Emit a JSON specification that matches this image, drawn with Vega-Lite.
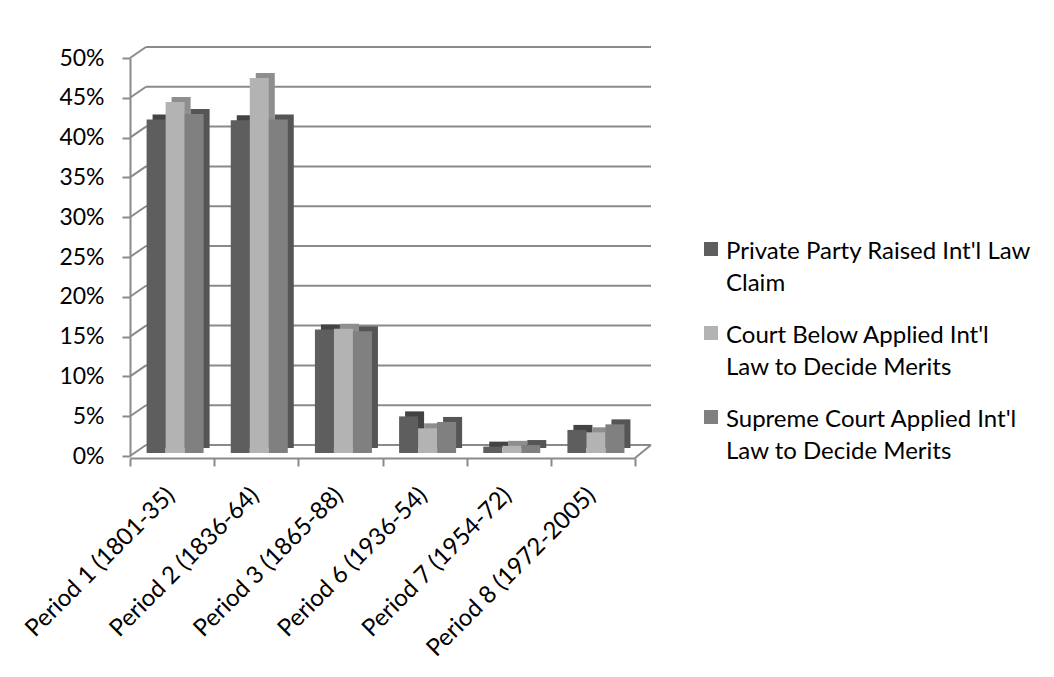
{
  "$schema": "https://vega.github.io/schema/vega-lite/v6.json",
  "width": 505,
  "height": 398,
  "autosize": {"type": "none"},
  "padding": {"left": 130, "top": 58, "right": 419, "bottom": 221},
  "background": "white",
  "datasets": {
    "grid": [{"v": 0}, {"v": 0.05}, {"v": 0.1}, {"v": 0.15}, {"v": 0.2}, {"v": 0.25}, {"v": 0.3}, {"v": 0.35}, {"v": 0.4}, {"v": 0.45}, {"v": 0.5}],
    "floor": [{"v": 0}],
    "bars": [
      {"period": "Period 1 (1801-35)", "series": "Private Party Raised Int'l Law Claim", "value": 0.419},
      {"period": "Period 1 (1801-35)", "series": "Court Below Applied Int'l Law to Decide Merits", "value": 0.441},
      {"period": "Period 1 (1801-35)", "series": "Supreme Court Applied Int'l Law to Decide Merits", "value": 0.426},
      {"period": "Period 2 (1836-64)", "series": "Private Party Raised Int'l Law Claim", "value": 0.418},
      {"period": "Period 2 (1836-64)", "series": "Court Below Applied Int'l Law to Decide Merits", "value": 0.471},
      {"period": "Period 2 (1836-64)", "series": "Supreme Court Applied Int'l Law to Decide Merits", "value": 0.419},
      {"period": "Period 3 (1865-88)", "series": "Private Party Raised Int'l Law Claim", "value": 0.155},
      {"period": "Period 3 (1865-88)", "series": "Court Below Applied Int'l Law to Decide Merits", "value": 0.156},
      {"period": "Period 3 (1865-88)", "series": "Supreme Court Applied Int'l Law to Decide Merits", "value": 0.153},
      {"period": "Period 6 (1936-54)", "series": "Private Party Raised Int'l Law Claim", "value": 0.046},
      {"period": "Period 6 (1936-54)", "series": "Court Below Applied Int'l Law to Decide Merits", "value": 0.031},
      {"period": "Period 6 (1936-54)", "series": "Supreme Court Applied Int'l Law to Decide Merits", "value": 0.039},
      {"period": "Period 7 (1954-72)", "series": "Private Party Raised Int'l Law Claim", "value": 0.008},
      {"period": "Period 7 (1954-72)", "series": "Court Below Applied Int'l Law to Decide Merits", "value": 0.009},
      {"period": "Period 7 (1954-72)", "series": "Supreme Court Applied Int'l Law to Decide Merits", "value": 0.010},
      {"period": "Period 8 (1972-2005)", "series": "Private Party Raised Int'l Law Claim", "value": 0.029},
      {"period": "Period 8 (1972-2005)", "series": "Court Below Applied Int'l Law to Decide Merits", "value": 0.026},
      {"period": "Period 8 (1972-2005)", "series": "Supreme Court Applied Int'l Law to Decide Merits", "value": 0.036}
    ]
  },
  "layer": [
    {
      "data": {"name": "grid"},
      "mark": {"type": "rule", "color": "#8a8a8a", "strokeWidth": 2, "xOffset": 16, "x2Offset": 16, "yOffset": -11},
      "encoding": {
        "x": {"value": 0},
        "x2": {"value": "width"},
        "y": {"field": "v", "type": "quantitative", "scale": {"domain": [0, 0.5]},
          "axis": {"title": null, "values": [0, 0.05, 0.1, 0.15, 0.2, 0.25, 0.3, 0.35, 0.4, 0.45, 0.5], "format": ".0%", "grid": false, "domainColor": "#8a8a8a", "domainWidth": 2, "tickColor": "#8a8a8a", "tickWidth": 2, "tickSize": 8, "labelPadding": 18, "labelFontSize": 23, "labelColor": "#000000", "labelFont": "Lato"}}
      }
    },
    {
      "data": {"name": "grid"},
      "mark": {"type": "rule", "color": "#8a8a8a", "strokeWidth": 2, "x2Offset": 16, "y2Offset": -11},
      "encoding": {
        "x": {"value": 0},
        "x2": {"value": 0},
        "y": {"field": "v", "type": "quantitative", "scale": {"domain": [0, 0.5]}, "axis": {"title": null, "values": [0, 0.05, 0.1, 0.15, 0.2, 0.25, 0.3, 0.35, 0.4, 0.45, 0.5], "format": ".0%", "grid": false, "domainColor": "#8a8a8a", "domainWidth": 2, "tickColor": "#8a8a8a", "tickWidth": 2, "tickSize": 8, "labelPadding": 18, "labelFontSize": 23, "labelColor": "#000000", "labelFont": "Lato"}},
        "y2": {"field": "v"}
      }
    },
    {
      "data": {"name": "floor"},
      "mark": {"type": "rule", "color": "#8a8a8a", "strokeWidth": 2, "yOffset": 2, "x2Offset": 16, "y2Offset": -11},
      "encoding": {
        "x": {"value": "width"},
        "x2": {"value": "width"},
        "y": {"field": "v", "type": "quantitative", "scale": {"domain": [0, 0.5]}, "axis": {"title": null, "values": [0, 0.05, 0.1, 0.15, 0.2, 0.25, 0.3, 0.35, 0.4, 0.45, 0.5], "format": ".0%", "grid": false, "domainColor": "#8a8a8a", "domainWidth": 2, "tickColor": "#8a8a8a", "tickWidth": 2, "tickSize": 8, "labelPadding": 18, "labelFontSize": 23, "labelColor": "#000000", "labelFont": "Lato"}},
        "y2": {"field": "v"}
      }
    },
    {
      "data": {"name": "bars"},
      "mark": {"type": "bar", "yOffset": -8, "y2Offset": -8},
      "encoding": {
        "x": {"field": "period", "type": "nominal", "sort": null, "scale": {"paddingInner": 0, "paddingOuter": 0},
          "axis": {"title": null, "labelAngle": -45, "tickBand": "extent", "domainColor": "#8a8a8a", "domainWidth": 2, "tickColor": "#8a8a8a", "tickWidth": 2, "tickSize": 8, "labelPadding": 17, "labelOffset": -10, "labelLimit": 400, "offset": 2, "labelFontSize": 24, "labelColor": "#000000", "labelFont": "Lato"}},
        "xOffset": {"field": "series", "type": "nominal", "scale": {"domain": ["Private Party Raised Int'l Law Claim", "Court Below Applied Int'l Law to Decide Merits", "Supreme Court Applied Int'l Law to Decide Merits"], "paddingInner": 0, "paddingOuter": 0.715, "range": [9, 93.2]}},
        "y": {"field": "value", "type": "quantitative", "scale": {"domain": [0, 0.5]},
          "axis": {"title": null, "values": [0, 0.05, 0.1, 0.15, 0.2, 0.25, 0.3, 0.35, 0.4, 0.45, 0.5], "format": ".0%", "grid": false, "domainColor": "#8a8a8a", "domainWidth": 2, "tickColor": "#8a8a8a", "tickWidth": 2, "tickSize": 8, "labelPadding": 18, "labelFontSize": 23, "labelColor": "#000000", "labelFont": "Lato"}},
        "color": {"value": "#555555", "condition": [
          {"test": "datum.series === \"Private Party Raised Int'l Law Claim\"", "value": "#434343"},
          {"test": "datum.series === \"Court Below Applied Int'l Law to Decide Merits\"", "value": "#8e8e8e"}
        ]}
      }
    },
    {
      "data": {"name": "bars"},
      "mark": {"type": "bar", "yOffset": -3, "y2Offset": -3},
      "encoding": {
        "x": {"field": "period", "type": "nominal", "sort": null, "scale": {"paddingInner": 0, "paddingOuter": 0},
          "axis": {"title": null, "labelAngle": -45, "tickBand": "extent", "domainColor": "#8a8a8a", "domainWidth": 2, "tickColor": "#8a8a8a", "tickWidth": 2, "tickSize": 8, "labelPadding": 17, "labelOffset": -10, "labelLimit": 400, "offset": 2, "labelFontSize": 24, "labelColor": "#000000", "labelFont": "Lato"}},
        "xOffset": {"field": "series", "type": "nominal", "scale": {"domain": ["Private Party Raised Int'l Law Claim", "Court Below Applied Int'l Law to Decide Merits", "Supreme Court Applied Int'l Law to Decide Merits"], "paddingInner": 0, "paddingOuter": 0.715, "range": [3, 87.2]}},
        "y": {"field": "value", "type": "quantitative", "scale": {"domain": [0, 0.5]},
          "axis": {"title": null, "values": [0, 0.05, 0.1, 0.15, 0.2, 0.25, 0.3, 0.35, 0.4, 0.45, 0.5], "format": ".0%", "grid": false, "domainColor": "#8a8a8a", "domainWidth": 2, "tickColor": "#8a8a8a", "tickWidth": 2, "tickSize": 8, "labelPadding": 18, "labelFontSize": 23, "labelColor": "#000000", "labelFont": "Lato"}},
        "color": {"field": "series", "type": "nominal",
          "scale": {"domain": ["Private Party Raised Int'l Law Claim", "Court Below Applied Int'l Law to Decide Merits", "Supreme Court Applied Int'l Law to Decide Merits"], "range": ["#5e5e5e", "#b3b3b3", "#808080"]},
          "legend": {"orient": "none", "legendX": 569, "legendY": 170, "title": null, "symbolType": "M-1,0.286H1V2.286H-1Z", "symbolSize": 196, "symbolStrokeWidth": 0, "symbolOpacity": 1, "labelFontSize": 24, "labelFont": "Lato", "labelColor": "#000000", "labelOffset": 3, "labelLimit": 0, "rowPadding": 16, "labelBaseline": "top",
            "labelExpr": "datum.label === \"Private Party Raised Int'l Law Claim\" ? [\"Private Party Raised Int'l Law\", \"Claim\"] : datum.label === \"Court Below Applied Int'l Law to Decide Merits\" ? [\"Court Below Applied Int'l\", \"Law to Decide Merits\"] : [\"Supreme Court Applied Int'l\", \"Law to Decide Merits\"]"}}
      }
    }
  ],
  "resolve": {"scale": {"xOffset": "independent"}},
  "config": {
    "font": "Lato",
    "view": {"stroke": null},
    "style": {"guide-label": {"lineHeight": 32}}
  }
}
